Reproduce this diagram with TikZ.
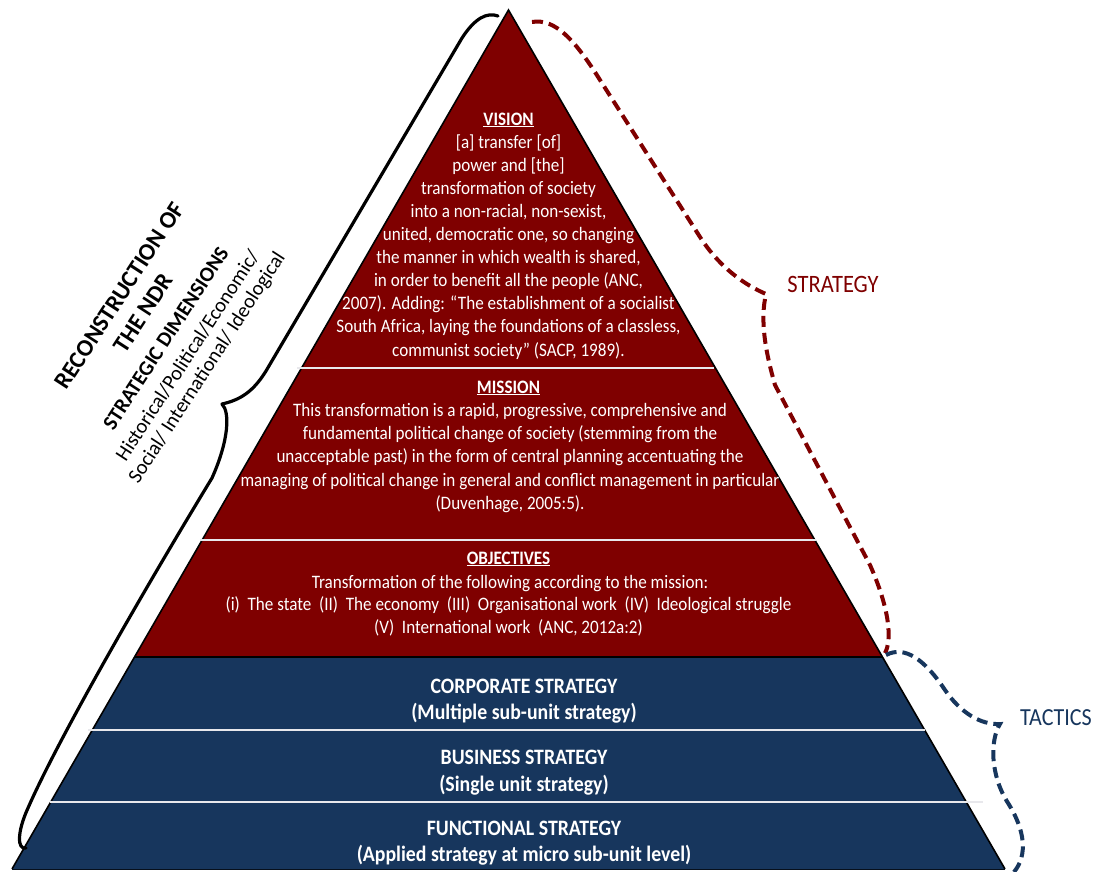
\documentclass[tikz,border=0pt]{standalone}
\usepackage{fontspec}
\setmainfont{Carlito}[FakeStretch=0.9]
\newfontfamily\plainfont{Carlito}
\definecolor{pyrred}{RGB}{127,0,0}
\definecolor{pyrblue}{RGB}{23,54,93}
\definecolor{sepline}{RGB}{232,232,236}
\tikzset{
  redtxt/.style={text=white, anchor=base, inner sep=0pt, font=\fontsize{19}{22}\selectfont},
  redhead/.style={redtxt, font=\fontsize{19}{22}\selectfont\bfseries},
  bluetxt/.style={text=white, anchor=base, inner sep=0pt, font=\fontsize{22}{25}\selectfont\bfseries},
  sidetxt/.style={anchor=base, inner sep=0pt, rotate=57},
  sepstyle/.style={draw=sepline, line width=1.8pt},
  dashbrace/.style={line width=4pt, dash pattern=on 11pt off 6pt, line cap=butt},
}
\begin{document}
\begin{tikzpicture}[x=1pt,y=-1pt]
\useasboundingbox (0,0) rectangle (1096,871);
% pyramid
\coordinate (A) at (508.5,10);
\coordinate (BL) at (12,869);
\coordinate (BR) at (1005,869);
\coordinate (ML) at (134.5,657);
\coordinate (MR) at (882.5,657);
\fill[pyrred] (A) -- (MR) -- (ML) -- cycle;
\fill[pyrblue] (ML) -- (MR) -- (BR) -- (BL) -- cycle;
\draw[black, line width=1.2pt] (ML) -- (MR);
\draw[black, line width=1.6pt, line join=miter] (BL) -- (A) -- (BR);
\draw[black!70!pyrblue, line width=1pt] (BL) -- (BR);
% separators
\coordinate (s1l) at (297,368); \coordinate (s1r) at (714,368);
\coordinate (s2l) at (200,540); \coordinate (s2r) at (816,540);
\coordinate (s3l) at (88,730);  \coordinate (s3r) at (925,730);
\coordinate (s4l) at (50,802);  \coordinate (s4r) at (983,802);
\draw[sepstyle] (s1l) -- (s1r);
\draw[sepstyle] (s2l) -- (s2r);
\draw[sepstyle] (s3l) -- (s3r);
\draw[sepstyle] (s4l) -- (s4r);
% vision
\node[redhead] (vis-0) at (508.5,125) {\underline{VISION}};
\foreach \txt [count=\i] in {{[a] transfer [of]},{power and [the]},{transformation of society},
  {into a non-racial, non-sexist,},{united, democratic one, so changing},
  {the manner in which wealth is shared,},{in order to benefit all the people (ANC,},
  {2007). Adding: “The establishment of a socialist},
  {South Africa, laying the foundations of a classless,},{communist society” (SACP, 1989).}}
  \node[redtxt] (vis-\i) at (508.5,{125+23.1*\i}) {\txt};
% mission
\node[redhead] (mis-0) at (508.5,393) {\underline{MISSION}};
\foreach \txt [count=\i] in {{This transformation is a rapid, progressive, comprehensive and},
  {fundamental political change of society (stemming from the},
  {unacceptable past) in the form of central planning accentuating the},
  {managing of political change in general and conflict management in particular},
  {(Duvenhage, 2005:5).}}
  \node[redtxt] (mis-\i) at (510,{393+23.3*\i}) {\txt};
% objectives
\node[redhead] (obj-0) at (508.5,564) {\underline{OBJECTIVES}};
\node[redtxt] (obj-1) at (510,588) {Transformation of the following according to the mission:};
\node[redtxt] (obj-2) at (508.5,610.5) {(i)\ \ The state\ \ (II)\ \ The economy\ \ (III)\ \ Organisational work\ \ (IV)\ \ Ideological struggle};
\node[redtxt] (obj-3) at (508.5,633) {(V)\ \ International work\ \ (ANC, 2012a:2)};
% blue levels
\node[bluetxt] (cor-1) at (524,693) {CORPORATE STRATEGY};
\node[bluetxt] (cor-2) at (524,719) {(Multiple sub-unit strategy)};
\node[bluetxt] (bus-1) at (524,764) {BUSINESS STRATEGY};
\node[bluetxt] (bus-2) at (524,791) {(Single unit strategy)};
\node[bluetxt] (fun-1) at (524,835) {FUNCTIONAL STRATEGY};
\node[bluetxt] (fun-2) at (524,861) {(Applied strategy at micro sub-unit level)};
% right labels
\node[anchor=base, inner sep=0pt, text=pyrred, font=\fontsize{25}{27}\selectfont] (strat) at (833,292) {STRATEGY};
\node[anchor=base, inner sep=0pt, text=pyrblue, font=\fontsize{24.5}{27}\selectfont] (tact) at (1056,725) {TACTICS};
% left rotated labels
\node[sidetxt, font=\plainfont\fontsize{24}{26}\selectfont\bfseries] (rec-1) at (126,300) {RECONSTRUCTION OF};
\node[sidetxt, font=\plainfont\fontsize{24}{26}\selectfont\bfseries] (rec-2) at (150,317.5) {THE NDR};
\node[sidetxt, font=\plainfont\fontsize{21}{24}\selectfont\bfseries] (dim-1) at (171.5,342) {STRATEGIC DIMENSIONS};
\node[sidetxt, font=\plainfont\fontsize{20.5}{24}\selectfont] (dim-2) at (193,359) {Historical/Political/Economic/};
\node[sidetxt, font=\plainfont\fontsize{20.5}{24}\selectfont] (dim-3) at (212,371) {Social/ International/ Ideological};
% left brace
\coordinate (lbtop) at (498,16);
\coordinate (lbtip) at (222,404);
\coordinate (lbend) at (26,848);
\draw[black, line width=3.2pt, line cap=round, line join=round]
  (lbtop) .. controls (487,12) and (475,18) .. (462,38)
  -- (266,371) .. controls (253,392) and (240,400) .. (lbtip)
  .. controls (230,412) and (229,440) .. (212,478)
  .. controls (150,580) and (60,735) .. (28,808)
  .. controls (17,832) and (17,850) .. (lbend);
% strategy brace
\coordinate (rbtop) at (532,22);
\coordinate (rbtip) at (766,294);
\coordinate (rbend) at (885,653);
\draw[pyrred, dashbrace]
  (rbtop) .. controls (555,18) and (575,40) .. (600,80)
  -- (700,237) .. controls (720,268) and (745,285) .. (rbtip)
  .. controls (760,320) and (765,350) .. (775,385)
  -- (870,565) .. controls (890,610) and (892,640) .. (rbend);
% tactics brace
\coordinate (tbtop) at (886,655);
\coordinate (tbtip) at (1000,724);
\coordinate (tbend) at (1014,872);
\draw[pyrblue, dashbrace]
  (tbtop) .. controls (905,645) and (925,660) .. (945,690)
  .. controls (960,712) and (980,725) .. (tbtip)
  .. controls (990,740) and (990,775) .. (1008,803)
  .. controls (1025,830) and (1028,855) .. (tbend);
\end{tikzpicture}
\end{document}
